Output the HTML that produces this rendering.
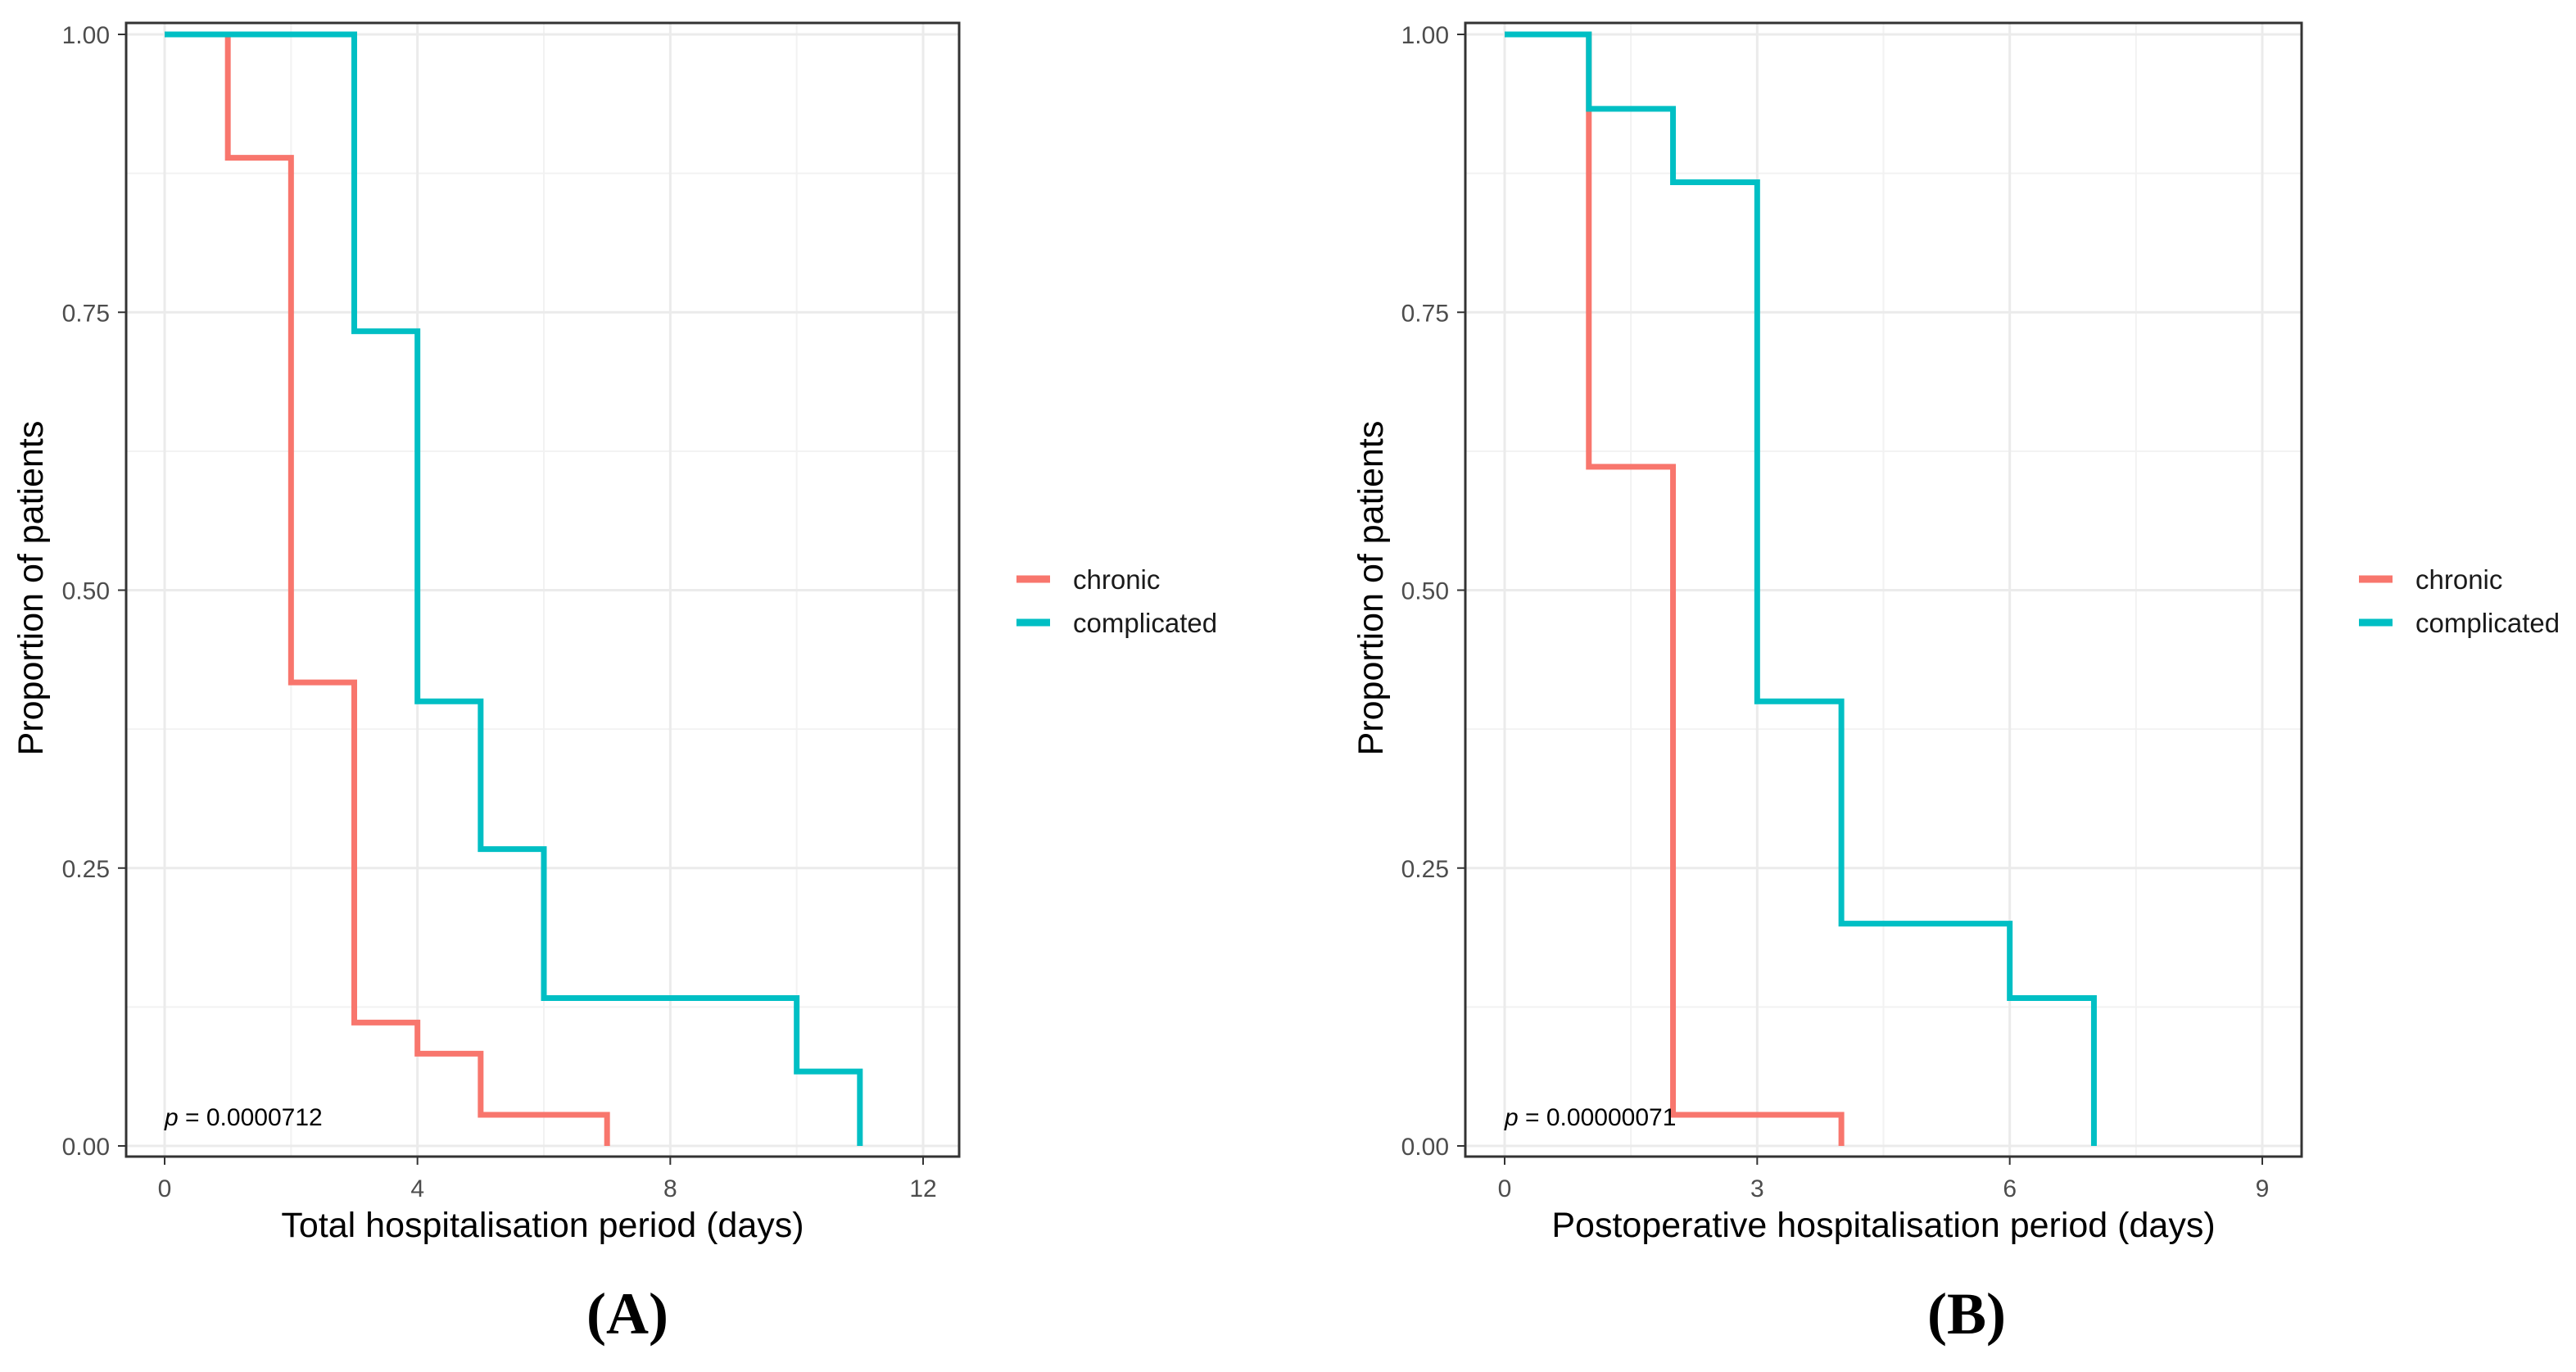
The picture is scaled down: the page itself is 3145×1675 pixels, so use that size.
<!DOCTYPE html>
<html><head><meta charset="utf-8"><style>
html,body{margin:0;padding:0;background:#fff;}
svg{display:block;font-family:"Liberation Sans",sans-serif;}
</style></head><body>
<svg id="fig" width="3145" height="1675" viewBox="0 0 3145 1675" xmlns="http://www.w3.org/2000/svg"></svg>
<script>
const seriesNames = ["chronic", "complicated"];
const seriesColors = ["#F8766D", "#00BFC4"];
// Panel A data (time, survival)
const aChronicT = [0, 1, 2, 3, 4, 5, 7];
const aChronicS = [1, 0.889, 0.417, 0.111, 0.083, 0.028, 0];
const aCompT = [0, 3, 4, 5, 6, 10, 11];
const aCompS = [1, 0.733, 0.4, 0.267, 0.133, 0.067, 0];
const aXTicks = [0, 4, 8, 12];
// Panel B data
const bChronicT = [0, 1, 2, 4];
const bChronicS = [1, 0.611, 0.028, 0];
const bCompT = [0, 1, 2, 3, 4, 6, 7];
const bCompS = [1, 0.933, 0.867, 0.4, 0.2, 0.133, 0];
const bXTicks = [0, 3, 6, 9];
const yTicks = [0, 0.25, 0.5, 0.75, 1];
const yTickLabels = ["0.00", "0.25", "0.50", "0.75", "1.00"];

const NS = "http://www.w3.org/2000/svg";
const svg = document.getElementById("fig");
function el(tag, attrs, parent, text) {
  const e = document.createElementNS(NS, tag);
  for (const k in attrs) e.setAttribute(k, attrs[k]);
  if (text !== undefined) e.textContent = text;
  (parent || svg).appendChild(e);
  return e;
}

function panel(cfg) {
  const g = el("g", {});
  
  
  const L = cfg.left, R = cfg.right, T = 28, B = 1412;
  const x = v => cfg.x0 + (v - cfg.xt[0]) * (cfg.x1 - cfg.x0) / (cfg.xt[cfg.xt.length - 1] - cfg.xt[0]);
  const y = v => 1399 - v * 1357;
  for (let i = 0; i < cfg.xt.length - 1; i++) {
    const m = (cfg.xt[i] + cfg.xt[i + 1]) / 2;
    const gl = el("line", {x1: x(m), x2: x(m), y1: T, y2: B, stroke: "#f2f2f2", "stroke-width": 2}, g);
    
    
  }
  for (let i = 0; i < yTicks.length - 1; i++) {
    const m = (yTicks[i] + yTicks[i + 1]) / 2;
    const gl = el("line", {x1: L, x2: R, y1: y(m), y2: y(m), stroke: "#f2f2f2", "stroke-width": 2}, g);
    
    
  }
  cfg.xt.forEach(v => {
    const gl = el("line", {x1: x(v), x2: x(v), y1: T, y2: B, stroke: "#ebebeb", "stroke-width": 3}, g);
    
    
    const tk = el("line", {x1: x(v), x2: x(v), y1: B, y2: B + 10, stroke: "#333", "stroke-width": 2}, g);
    
    
    const tl = el("text", {x: x(v), y: 1461, "text-anchor": "middle", "font-size": 30, fill: "#4d4d4d"}, g, String(v));
    
    
  });
  yTicks.forEach((v, i) => {
    const gl = el("line", {x1: L, x2: R, y1: y(v), y2: y(v), stroke: "#ebebeb", "stroke-width": 3}, g);
    
    
    const tk = el("line", {x1: L - 10, x2: L, y1: y(v), y2: y(v), stroke: "#333", "stroke-width": 2}, g);
    
    
    const tl = el("text", {x: L - 20, y: y(v) + 11, "text-anchor": "end", "font-size": 30, fill: "#4d4d4d"}, g, yTickLabels[i]);
    
    
  });
  cfg.series.forEach((s, si) => {
    let d = "M" + x(s.t[0]) + "," + y(s.s[0]);
    for (let i = 1; i < s.t.length; i++) {
      d += " H" + x(s.t[i]) + " V" + y(s.s[i]);
    }
    const p = el("path", {d: d, fill: "none", stroke: seriesColors[si], "stroke-width": 7, "stroke-linejoin": "miter"}, g);
    
    
  });
  const bd = el("rect", {x: L, y: T, width: R - L, height: B - T, fill: "none", stroke: "#333", "stroke-width": 3}, g);
  
  
  const pt = el("text", {x: x(0), y: 1374, "font-size": 30, fill: "#000"}, g);
  
  
  el("tspan", {"font-style": "italic"}, pt, "p");
  el("tspan", {}, pt, " = " + cfg.p);
  const xt = el("text", {x: (L + R) / 2, y: 1510, "text-anchor": "middle", "font-size": 43, fill: "#000"}, g, cfg.xtitle);
  
  
  const yx = cfg.ylabX;
  const yt = el("text", {x: yx, y: 718, "text-anchor": "middle", "font-size": 43, fill: "#000", transform: "rotate(-90 " + yx + " 718)"}, g, "Proportion of patients");
  
  
  seriesNames.forEach((n, i) => {
    const ly = 707 + i * 53;
    const ln = el("line", {x1: cfg.legX, x2: cfg.legX + 41, y1: ly, y2: ly, stroke: seriesColors[i], "stroke-width": 9}, g);
    
    
    const lt = el("text", {x: cfg.legX + 69, y: ly + 12, "font-size": 33, fill: "#1a1a1a"}, g, n);
    
    
  });
  const pl = el("text", {x: cfg.labX, y: 1628, "text-anchor": "middle", "font-size": 72, "font-weight": "bold", "font-family": "Liberation Serif, serif", fill: "#000"}, g, cfg.label);
  
  
}

panel({name: "panel-a", left: 154, right: 1171, x0: 201, x1: 1127, xt: aXTicks,
  series: [{t: aChronicT, s: aChronicS}, {t: aCompT, s: aCompS}],
  p: "0.0000712", xtitle: "Total hospitalisation period (days)", ylabX: 52, legX: 1241, labX: 766, label: "(A)"});
panel({name: "panel-b", left: 1789, right: 2810, x0: 1837, x1: 2762, xt: bXTicks,
  series: [{t: bChronicT, s: bChronicS}, {t: bCompT, s: bCompS}],
  p: "0.00000071", xtitle: "Postoperative hospitalisation period (days)", ylabX: 1688, legX: 2880, labX: 2401, label: "(B)"});
</script>
</body></html>
